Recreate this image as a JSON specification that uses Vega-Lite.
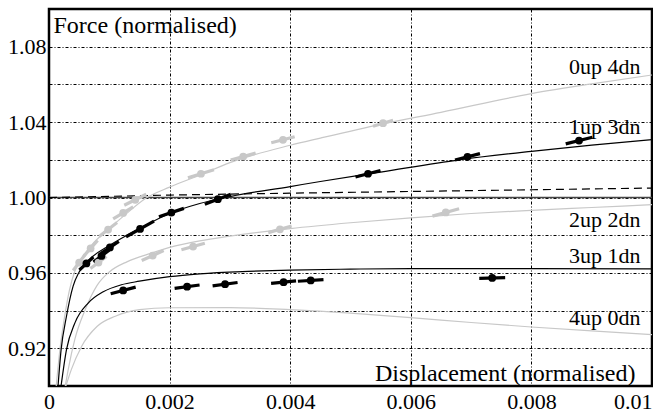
{
  "$schema": "https://vega.github.io/schema/vega-lite/v6.json",
  "width": 603,
  "height": 377,
  "autosize": {"type": "none"},
  "padding": {"left": 49, "top": 9, "right": 1, "bottom": 28},
  "background": "white",
  "config": {
    "view": {"stroke": "black", "strokeWidth": 2.5},
    "font": "Liberation Serif",
    "axis": {
      "labelFont": "Liberation Serif",
      "titleFont": "Liberation Serif",
      "labelColor": "black",
      "titleColor": "black",
      "titleFontWeight": "normal",
      "gridColor": "black",
      "gridOpacity": 1,
      "gridWidth": 1,
      "gridDash": [3, 2, 1, 2],
      "ticks": false,
      "domain": false,
      "labelOverlap": false
    }
  },
  "datasets": {
    "curves": [
      {"series": "0up 4dn", "tone": "gray", "x": 0.00012, "y": 0.900},
      {"series": "0up 4dn", "tone": "gray", "x": 0.00018, "y": 0.919},
      {"series": "0up 4dn", "tone": "gray", "x": 0.00026, "y": 0.937},
      {"series": "0up 4dn", "tone": "gray", "x": 0.00034, "y": 0.951},
      {"series": "0up 4dn", "tone": "gray", "x": 0.00043, "y": 0.961},
      {"series": "0up 4dn", "tone": "gray", "x": 0.00055, "y": 0.968},
      {"series": "0up 4dn", "tone": "gray", "x": 0.0007, "y": 0.9745},
      {"series": "0up 4dn", "tone": "gray", "x": 0.001, "y": 0.9835},
      {"series": "0up 4dn", "tone": "gray", "x": 0.00125, "y": 0.9905},
      {"series": "0up 4dn", "tone": "gray", "x": 0.0016, "y": 0.9995},
      {"series": "0up 4dn", "tone": "gray", "x": 0.002, "y": 1.0055},
      {"series": "0up 4dn", "tone": "gray", "x": 0.0025, "y": 1.0118},
      {"series": "0up 4dn", "tone": "gray", "x": 0.003, "y": 1.0185},
      {"series": "0up 4dn", "tone": "gray", "x": 0.004, "y": 1.0277},
      {"series": "0up 4dn", "tone": "gray", "x": 0.0045, "y": 1.0315},
      {"series": "0up 4dn", "tone": "gray", "x": 0.0055, "y": 1.0388},
      {"series": "0up 4dn", "tone": "gray", "x": 0.0065, "y": 1.0452},
      {"series": "0up 4dn", "tone": "gray", "x": 0.008, "y": 1.0551},
      {"series": "0up 4dn", "tone": "gray", "x": 0.009, "y": 1.0603},
      {"series": "0up 4dn", "tone": "gray", "x": 0.01, "y": 1.065},
      {"series": "2up 2dn", "tone": "gray", "x": 0.00027, "y": 0.900},
      {"series": "2up 2dn", "tone": "gray", "x": 0.00032, "y": 0.909},
      {"series": "2up 2dn", "tone": "gray", "x": 0.00043, "y": 0.925},
      {"series": "2up 2dn", "tone": "gray", "x": 0.0006, "y": 0.9405},
      {"series": "2up 2dn", "tone": "gray", "x": 0.0008, "y": 0.9535},
      {"series": "2up 2dn", "tone": "gray", "x": 0.001, "y": 0.9605},
      {"series": "2up 2dn", "tone": "gray", "x": 0.0013, "y": 0.966},
      {"series": "2up 2dn", "tone": "gray", "x": 0.0017, "y": 0.9705},
      {"series": "2up 2dn", "tone": "gray", "x": 0.002, "y": 0.9735},
      {"series": "2up 2dn", "tone": "gray", "x": 0.0025, "y": 0.977},
      {"series": "2up 2dn", "tone": "gray", "x": 0.003, "y": 0.9795},
      {"series": "2up 2dn", "tone": "gray", "x": 0.004, "y": 0.9835},
      {"series": "2up 2dn", "tone": "gray", "x": 0.005, "y": 0.9866},
      {"series": "2up 2dn", "tone": "gray", "x": 0.006, "y": 0.9892},
      {"series": "2up 2dn", "tone": "gray", "x": 0.007, "y": 0.9915},
      {"series": "2up 2dn", "tone": "gray", "x": 0.008, "y": 0.9932},
      {"series": "2up 2dn", "tone": "gray", "x": 0.009, "y": 0.9947},
      {"series": "2up 2dn", "tone": "gray", "x": 0.01, "y": 0.9962},
      {"series": "4up 0dn", "tone": "gray", "x": 0.00028, "y": 0.900},
      {"series": "4up 0dn", "tone": "gray", "x": 0.00037, "y": 0.9087},
      {"series": "4up 0dn", "tone": "gray", "x": 0.00054, "y": 0.921},
      {"series": "4up 0dn", "tone": "gray", "x": 0.0008, "y": 0.9317},
      {"series": "4up 0dn", "tone": "gray", "x": 0.0011, "y": 0.937},
      {"series": "4up 0dn", "tone": "gray", "x": 0.0015, "y": 0.9405},
      {"series": "4up 0dn", "tone": "gray", "x": 0.002, "y": 0.9415},
      {"series": "4up 0dn", "tone": "gray", "x": 0.003, "y": 0.9416},
      {"series": "4up 0dn", "tone": "gray", "x": 0.004, "y": 0.9405},
      {"series": "4up 0dn", "tone": "gray", "x": 0.005, "y": 0.9387},
      {"series": "4up 0dn", "tone": "gray", "x": 0.006, "y": 0.9363},
      {"series": "4up 0dn", "tone": "gray", "x": 0.007, "y": 0.9337},
      {"series": "4up 0dn", "tone": "gray", "x": 0.008, "y": 0.9313},
      {"series": "4up 0dn", "tone": "gray", "x": 0.009, "y": 0.9292},
      {"series": "4up 0dn", "tone": "gray", "x": 0.01, "y": 0.9273},
      {"series": "1up 3dn", "tone": "black", "x": 0.00015, "y": 0.900},
      {"series": "1up 3dn", "tone": "black", "x": 0.0002, "y": 0.919},
      {"series": "1up 3dn", "tone": "black", "x": 0.00029, "y": 0.937},
      {"series": "1up 3dn", "tone": "black", "x": 0.0004, "y": 0.953},
      {"series": "1up 3dn", "tone": "black", "x": 0.0005, "y": 0.9605},
      {"series": "1up 3dn", "tone": "black", "x": 0.0007, "y": 0.968},
      {"series": "1up 3dn", "tone": "black", "x": 0.001, "y": 0.9745},
      {"series": "1up 3dn", "tone": "black", "x": 0.0015, "y": 0.9835},
      {"series": "1up 3dn", "tone": "black", "x": 0.002, "y": 0.9915},
      {"series": "1up 3dn", "tone": "black", "x": 0.0025, "y": 0.9968},
      {"series": "1up 3dn", "tone": "black", "x": 0.003, "y": 1.0005},
      {"series": "1up 3dn", "tone": "black", "x": 0.004, "y": 1.0058},
      {"series": "1up 3dn", "tone": "black", "x": 0.0045, "y": 1.0085},
      {"series": "1up 3dn", "tone": "black", "x": 0.0055, "y": 1.0135},
      {"series": "1up 3dn", "tone": "black", "x": 0.0068, "y": 1.02},
      {"series": "1up 3dn", "tone": "black", "x": 0.008, "y": 1.0245},
      {"series": "1up 3dn", "tone": "black", "x": 0.009, "y": 1.0278},
      {"series": "1up 3dn", "tone": "black", "x": 0.01, "y": 1.0307},
      {"series": "3up 1dn", "tone": "black", "x": 0.0002, "y": 0.900},
      {"series": "3up 1dn", "tone": "black", "x": 0.00029, "y": 0.9193},
      {"series": "3up 1dn", "tone": "black", "x": 0.00043, "y": 0.9335},
      {"series": "3up 1dn", "tone": "black", "x": 0.00065, "y": 0.944},
      {"series": "3up 1dn", "tone": "black", "x": 0.0009, "y": 0.950},
      {"series": "3up 1dn", "tone": "black", "x": 0.0012, "y": 0.9537},
      {"series": "3up 1dn", "tone": "black", "x": 0.0015, "y": 0.9556},
      {"series": "3up 1dn", "tone": "black", "x": 0.002, "y": 0.958},
      {"series": "3up 1dn", "tone": "black", "x": 0.0025, "y": 0.9595},
      {"series": "3up 1dn", "tone": "black", "x": 0.0033, "y": 0.9608},
      {"series": "3up 1dn", "tone": "black", "x": 0.004, "y": 0.9615},
      {"series": "3up 1dn", "tone": "black", "x": 0.005, "y": 0.962},
      {"series": "3up 1dn", "tone": "black", "x": 0.006, "y": 0.9623},
      {"series": "3up 1dn", "tone": "black", "x": 0.008, "y": 0.9623},
      {"series": "3up 1dn", "tone": "black", "x": 0.01, "y": 0.9621}
    ],
    "dashed": [
      {"x": 0, "y": 1.0},
      {"x": 0.001, "y": 1.0006},
      {"x": 0.002, "y": 1.0013},
      {"x": 0.004, "y": 1.0023},
      {"x": 0.006, "y": 1.0032},
      {"x": 0.008, "y": 1.0041},
      {"x": 0.01, "y": 1.005}
    ],
    "points": [
      {"series": "0up 4dn", "tone": "gray", "x": 0.0005, "y": 0.9655, "x1": 0.0004, "y1": 0.96126, "x2": 0.0006, "y2": 0.96974},
      {"series": "0up 4dn", "tone": "gray", "x": 0.00069, "y": 0.973, "x1": 0.000574, "y1": 0.96876, "x2": 0.000806, "y2": 0.97724},
      {"series": "0up 4dn", "tone": "gray", "x": 0.00098, "y": 0.983, "x1": 0.000831, "y1": 0.97929, "x2": 0.001129, "y2": 0.98671},
      {"series": "0up 4dn", "tone": "gray", "x": 0.00123, "y": 0.9918, "x1": 0.001064, "y1": 0.98862, "x2": 0.001396, "y2": 0.99498},
      {"series": "0up 4dn", "tone": "gray", "x": 0.00143, "y": 0.9988, "x1": 0.001248, "y1": 0.99589, "x2": 0.001612, "y2": 1.00171},
      {"series": "0up 4dn", "tone": "gray", "x": 0.00252, "y": 1.0126, "x1": 0.002304, "y1": 1.01048, "x2": 0.002736, "y2": 1.01472},
      {"series": "0up 4dn", "tone": "gray", "x": 0.00322, "y": 1.0217, "x1": 0.003013, "y1": 1.01985, "x2": 0.003427, "y2": 1.02355},
      {"series": "0up 4dn", "tone": "gray", "x": 0.00388, "y": 1.0306, "x1": 0.003686, "y1": 1.02901, "x2": 0.004074, "y2": 1.03219},
      {"series": "0up 4dn", "tone": "gray", "x": 0.00554, "y": 1.0394, "x1": 0.005374, "y1": 1.03781, "x2": 0.005706, "y2": 1.04099},
      {"series": "2up 2dn", "tone": "gray", "x": 0.00082, "y": 0.9655, "x1": 0.000687, "y1": 0.96232, "x2": 0.000953, "y2": 0.96868},
      {"series": "2up 2dn", "tone": "gray", "x": 0.00172, "y": 0.9692, "x1": 0.001538, "y1": 0.96655, "x2": 0.001902, "y2": 0.97185},
      {"series": "2up 2dn", "tone": "gray", "x": 0.00239, "y": 0.974, "x1": 0.002196, "y1": 0.97225, "x2": 0.002584, "y2": 0.97575},
      {"series": "2up 2dn", "tone": "gray", "x": 0.00383, "y": 0.9831, "x1": 0.003636, "y1": 0.98135, "x2": 0.004024, "y2": 0.98485},
      {"series": "2up 2dn", "tone": "gray", "x": 0.00658, "y": 0.9921, "x1": 0.006359, "y1": 0.99014, "x2": 0.006801, "y2": 0.99406},
      {"series": "1up 3dn", "tone": "black", "x": 0.00062, "y": 0.965, "x1": 0.000504, "y1": 0.96156, "x2": 0.000736, "y2": 0.96844},
      {"series": "1up 3dn", "tone": "black", "x": 0.00087, "y": 0.969, "x1": 0.000737, "y1": 0.96582, "x2": 0.001003, "y2": 0.97218},
      {"series": "1up 3dn", "tone": "black", "x": 0.00101, "y": 0.9735, "x1": 0.000861, "y1": 0.97032, "x2": 0.001159, "y2": 0.97668},
      {"series": "1up 3dn", "tone": "black", "x": 0.00151, "y": 0.9833, "x1": 0.001278, "y1": 0.97917, "x2": 0.001742, "y2": 0.98743},
      {"series": "1up 3dn", "tone": "black", "x": 0.00203, "y": 0.992, "x1": 0.001823, "y1": 0.98977, "x2": 0.002237, "y2": 0.99423},
      {"series": "1up 3dn", "tone": "black", "x": 0.0028, "y": 0.9991, "x1": 0.002584, "y1": 0.99645, "x2": 0.003016, "y2": 1.00175},
      {"series": "1up 3dn", "tone": "black", "x": 0.00529, "y": 1.0126, "x1": 0.005083, "y1": 1.01085, "x2": 0.005497, "y2": 1.01435},
      {"series": "1up 3dn", "tone": "black", "x": 0.00694, "y": 1.0216, "x1": 0.006733, "y1": 1.0199, "x2": 0.007147, "y2": 1.0233},
      {"series": "1up 3dn", "tone": "black", "x": 0.00879, "y": 1.0302, "x1": 0.008569, "y1": 1.02845, "x2": 0.009011, "y2": 1.03195},
      {"series": "3up 1dn", "tone": "black", "x": 0.00123, "y": 0.9507, "x1": 0.001023, "y1": 0.94895, "x2": 0.001437, "y2": 0.95245},
      {"series": "3up 1dn", "tone": "black", "x": 0.00229, "y": 0.9527, "x1": 0.002083, "y1": 0.9518, "x2": 0.002497, "y2": 0.9536},
      {"series": "3up 1dn", "tone": "black", "x": 0.00292, "y": 0.954, "x1": 0.002713, "y1": 0.9531, "x2": 0.003127, "y2": 0.9549},
      {"series": "3up 1dn", "tone": "black", "x": 0.00389, "y": 0.9551, "x1": 0.003683, "y1": 0.95446, "x2": 0.004097, "y2": 0.95574},
      {"series": "3up 1dn", "tone": "black", "x": 0.00434, "y": 0.956, "x1": 0.004128, "y1": 0.95558, "x2": 0.004552, "y2": 0.95642},
      {"series": "3up 1dn", "tone": "black", "x": 0.00735, "y": 0.9573, "x1": 0.007135, "y1": 0.95714, "x2": 0.007565, "y2": 0.95746}
    ],
    "labels": [
      {"label": "0up 4dn", "x": 0.00981, "y": 1.0655},
      {"label": "1up 3dn", "x": 0.00981, "y": 1.0337},
      {"label": "2up 2dn", "x": 0.00981, "y": 0.9846},
      {"label": "3up 1dn", "x": 0.00981, "y": 0.9653},
      {"label": "4up 0dn", "x": 0.00981, "y": 0.9326}
    ]
  },
  "resolve": {"axis": {"y": "independent"}},
  "layer": [
    {
      "data": {"values": [{"y": 1.0}]},
      "mark": {"type": "rule", "color": "#444444", "strokeWidth": 1.5},
      "encoding": {
        "y": {
          "field": "y", "type": "quantitative",
          "scale": {"domain": [0.9, 1.1], "nice": false, "zero": false},
          "axis": {
            "orient": "left",
            "values": [0.92, 0.96, 1.0, 1.04, 1.08],
            "format": ".2f",
            "grid": false,
            "labelFontSize": 22,
            "labelPadding": 3,
            "title": "Force (normalised)",
            "titleFontSize": 24,
            "titleAngle": 0,
            "titleAlign": "left",
            "titleBaseline": "alphabetic",
            "titleX": 4,
            "titleY": 23
          }
        }
      }
    },
    {
      "data": {"name": "curves"},
      "mark": {"type": "line", "strokeWidth": 1.2, "interpolate": "monotone", "clip": true},
      "encoding": {
        "x": {
          "field": "x", "type": "quantitative",
          "scale": {"domain": [0, 0.01], "nice": false, "zero": false},
          "axis": {
            "values": [0, 0.002, 0.004, 0.006, 0.008, 0.01],
            "format": "~g",
            "grid": true,
            "labelFontSize": 22,
            "labelPadding": 5,
            "labelAlign": {"condition": {"test": "datum.value >= 0.0099", "value": "right"}, "value": "center"},
            "title": "Displacement (normalised)",
            "titleFontSize": 24,
            "titleAlign": "right",
            "titleBaseline": "alphabetic",
            "titleX": 586,
            "titleY": -6
          }
        },
        "y": {
          "field": "y", "type": "quantitative",
          "axis": {
            "orient": "right",
            "values": [0.9, 0.92, 0.94, 0.96, 0.98, 1.0, 1.02, 1.04, 1.06, 1.08, 1.1],
            "grid": true,
            "labels": false,
            "title": null
          }
        },
        "detail": {"field": "series"},
        "color": {
          "field": "tone", "type": "nominal",
          "scale": {"domain": ["gray", "black"], "range": ["#c8c8c8", "#000000"]},
          "legend": null
        }
      }
    },
    {
      "data": {"name": "dashed"},
      "mark": {"type": "line", "color": "black", "strokeWidth": 1.2, "strokeDash": [8, 5]},
      "encoding": {
        "x": {"field": "x", "type": "quantitative"},
        "y": {"field": "y", "type": "quantitative", "axis": null}
      }
    },
    {
      "data": {"name": "points"},
      "mark": {"type": "rule", "strokeWidth": 3.2},
      "encoding": {
        "x": {"field": "x1", "type": "quantitative"},
        "y": {"field": "y1", "type": "quantitative", "axis": null},
        "x2": {"field": "x2"},
        "y2": {"field": "y2"},
        "color": {
          "field": "tone", "type": "nominal",
          "scale": {"domain": ["gray", "black"], "range": ["#c8c8c8", "#000000"]},
          "legend": null
        }
      }
    },
    {
      "data": {"name": "points"},
      "mark": {"type": "point", "filled": true, "size": 60, "opacity": 1, "shape": "circle"},
      "encoding": {
        "x": {"field": "x", "type": "quantitative"},
        "y": {"field": "y", "type": "quantitative", "axis": null},
        "color": {
          "field": "tone", "type": "nominal",
          "scale": {"domain": ["gray", "black"], "range": ["#c8c8c8", "#000000"]},
          "legend": null
        }
      }
    },
    {
      "data": {"name": "labels"},
      "mark": {"type": "text", "align": "right", "baseline": "alphabetic", "fontSize": 22, "font": "Liberation Serif", "color": "black"},
      "encoding": {
        "x": {"field": "x", "type": "quantitative"},
        "y": {"field": "y", "type": "quantitative", "axis": null},
        "text": {"field": "label"}
      }
    }
  ]
}
